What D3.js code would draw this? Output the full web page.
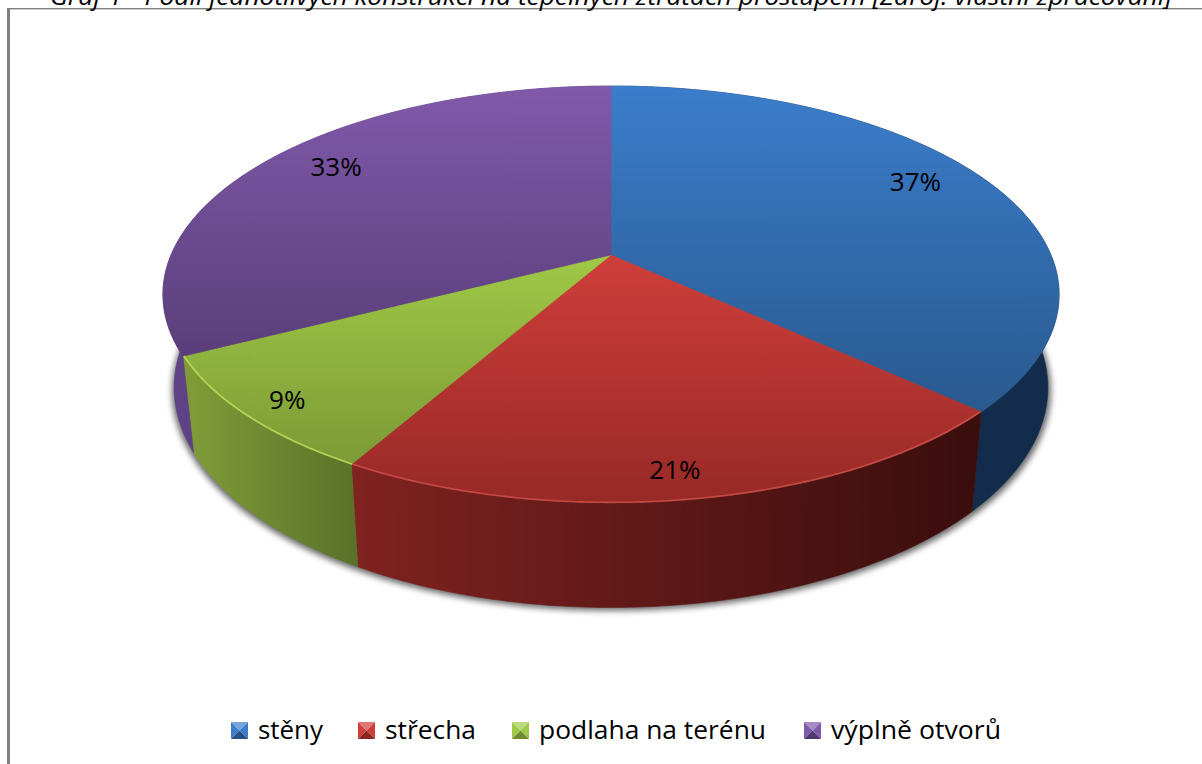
<!DOCTYPE html>
<html><head><meta charset="utf-8">
<script src="https://cdn.jsdelivr.net/npm/d3@7"></script>
<style>html,body{margin:0;padding:0;background:#fff;overflow:hidden}svg{display:block}
text{font-family:"Open Sans","Noto Sans",sans-serif;fill:#000}</style></head>
<body><svg id="c" width="1202" height="764"></svg>
<script>
const categories = ["stěny","střecha","podlaha na terénu","výplně otvorů"];
const values = [36.9,21.3,9.2,32.6];
const labels = ["37%","21%","9%","33%"];
const title = "Graf 1 - Podíl jednotlivých konstrukcí na tepelných ztrátách prostupem [Zdroj: vlastní zpracování]";
const topColors = [["#3b7dcb","#29598f"],["#cf3e3a","#972926"],["#9fc946","#7c9a36"],["#8159aa","#5a3e7a"]];
const sideColors = [["#10264a","#132c4c"],["#7f2220","#3a0e0d"],["#7f9b38","#5a7029"],["#5e4285","#4f3772"]];
const rimColors = ["#4d8ad0","#e8625c","#bde05a","#8c68b5"];
const rimOpacity = [0,.55,.85,0];

const svg = d3.select("#c"), defs = svg.append("defs");
const W=1202;
// perspective projection of the unit disc
const P = {cx:611, cy:255, R:440, S:201, p:0.1894};
const Lo = {cx:611, cy:346, R:429, S:212, p:0.1894};
const proj = (G,a,r=1)=>{const u=r*Math.sin(a),v=-r*Math.cos(a),w=1-P.p*v;return [G.cx+G.R*u/w,G.cy+G.S*v/w];};
const arcs = d3.pie().sort(null).value(d=>d)(values);
const line = d3.line();
const samples=(a0,a1)=>{const n=Math.max(2,Math.ceil((a1-a0)/0.01));return d3.range(n+1).map(i=>a0+(a1-a0)*i/n);};

defs.append("filter").attr("id","sh").attr("x","-10%").attr("y","-10%").attr("width","120%").attr("height","120%")
  .append("feGaussianBlur").attr("stdDeviation",3.2);
defs.append("filter").attr("id","bl").attr("x","-10%").attr("y","-10%").attr("width","120%").attr("height","120%")
  .append("feGaussianBlur").attr("stdDeviation",0.7);
arcs.forEach((d,i)=>{
  const pts=samples(d.startAngle,d.endAngle).map(a=>proj(P,a));
  const ys=pts.map(p=>p[1]).concat(P.cy), xs=samples(d.startAngle,d.endAngle).map(a=>proj(Lo,a)[0]);
  const g=defs.append("linearGradient").attr("id","t"+i).attr("gradientUnits","userSpaceOnUse")
    .attr("x1",0).attr("x2",0).attr("y1",d3.min(ys)).attr("y2",d3.max(ys));
  g.append("stop").attr("offset",0).attr("stop-color",topColors[i][0]);
  g.append("stop").attr("offset",1).attr("stop-color",topColors[i][1]);
  const s=defs.append("linearGradient").attr("id","s"+i).attr("gradientUnits","userSpaceOnUse")
    .attr("y1",0).attr("y2",0).attr("x1",d3.min(xs)).attr("x2",d3.max(xs));
  s.append("stop").attr("offset",0).attr("stop-color",sideColors[i][0]);
  s.append("stop").attr("offset",1).attr("stop-color",sideColors[i][1]);
});

// frame
svg.append("rect").attr("x",7).attr("y",8).attr("width",3).attr("height",756).attr("fill","#808080");
svg.append("rect").attr("x",7).attr("y",8).attr("width",W-7).attr("height",1.4).attr("fill","#808080");

// title (clipped by the top edge, as in the source image)
svg.append("text").attr("x",50).attr("y",5).attr("font-size",24).attr("font-style","italic")
  .attr("textLength",1122).attr("lengthAdjust","spacingAndGlyphs").text(title);

// shadow
const all=samples(0,2*Math.PI);
svg.append("path").attr("d",line(all.map(a=>{const q=proj(Lo,a);return [q[0]+(q[0]>P.cx?3:-2),q[1]+3];}))+"Z")
  .attr("fill","#000").attr("opacity",.6).attr("filter","url(#sh)");

// side walls
arcs.forEach((d,i)=>{
  const as=samples(d.startAngle,d.endAngle);
  const path=line(as.map(a=>proj(P,a)).concat(as.slice().reverse().map(a=>proj(Lo,a))))+"Z";
  svg.append("path").attr("d",path).attr("fill",`url(#s${i})`).attr("stroke",`url(#s${i})`).attr("stroke-width",.5);
});

// top faces
arcs.forEach((d,i)=>{
  const as=samples(d.startAngle,d.endAngle);
  const path=line([[P.cx,P.cy],...as.map(a=>proj(P,a))])+"Z";
  svg.append("path").attr("d",path).attr("fill",`url(#t${i})`).attr("stroke",`url(#t${i})`).attr("stroke-width",.5);
});
// bevelled rim highlight
arcs.forEach((d,i)=>{
  const as=samples(d.startAngle,d.endAngle).filter(a=>Math.cos(a)<0.2);
  if(as.length<2||!rimOpacity[i]) return;
  svg.append("path").attr("d",line(as.map(a=>proj(P,a,0.998)))).attr("fill","none")
    .attr("stroke",rimColors[i]).attr("stroke-width",1.6).attr("filter","url(#bl)").attr("opacity",rimOpacity[i]);
});

// value labels
const ldx=[2,-2,-14,7], ldy=[-3,3,-4,3];
arcs.forEach((d,i)=>{
  const a=(d.startAngle+d.endAngle)/2,u=Math.sin(a),v=-Math.cos(a);
  svg.append("text").attr("x",P.cx+u*(v>0?430:330)+ldx[i]).attr("y",P.cy+v*(v>0?215:175)+ldy[i]+9)
    .attr("text-anchor","middle").attr("font-size",26).text(labels[i]);
});

// legend
const lx=[231,358,512,804], lw=[92,118,254,197];
const sw=17, ly=722;
categories.forEach((c,i)=>{
  const g=svg.append("g").attr("transform",`translate(${lx[i]},${ly})`);
  const [a,b]=topColors[i];
  const cl=d3.interpolateRgb(a,"#fff")(.3), dk=d3.interpolateRgb(b,"#000")(.1);
  const m=sw/2;
  [[[0,0],[sw,0],[m,m],cl],[[0,0],[0,sw],[m,m],a],[[sw,0],[sw,sw],[m,m],a],[[0,sw],[sw,sw],[m,m],dk]]
   .forEach(t=>g.append("path").attr("d",line(t.slice(0,3))+"Z").attr("fill",t[3]));
  g.append("text").attr("x",sw+10).attr("y",17).attr("font-size",25)
    .attr("textLength",lw[i]-27).attr("lengthAdjust","spacingAndGlyphs").text(c);
});
</script></body></html>
